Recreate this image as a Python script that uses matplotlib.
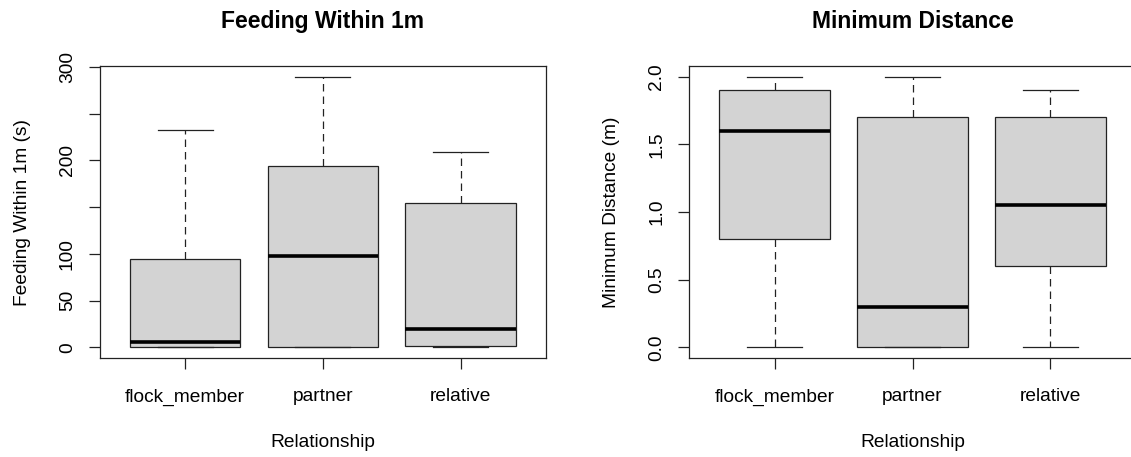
import matplotlib

matplotlib.use("Agg")
import matplotlib.pyplot as plt

plt.rcParams["font.family"] = ["Liberation Sans", "DejaVu Sans"]

# {{{ data

groups = ["flock_member", "partner", "relative"]

# five-number summaries: low whisker, q1, median, q3, high whisker
feeding_low = [0.0, 0.0, 0.0]
feeding_q1 = [0.0, 0.0, 1.8]
feeding_med = [5.4, 98.0, 19.3]
feeding_q3 = [94.9, 194.0, 154.0]
feeding_high = [232.7, 289.7, 209.4]

mindist_low = [0.0, 0.0, 0.0]
mindist_q1 = [0.8, 0.0, 0.6]
mindist_med = [1.6, 0.3, 1.05]
mindist_q3 = [1.9, 1.7, 1.7]
mindist_high = [2.0, 2.0, 1.9]

feeding_ticks = [0, 50, 100, 150, 200, 250, 300]
feeding_ticklabels = ["0", "50", "100", "", "200", "", "300"]
mindist_ticks = [0.0, 0.5, 1.0, 1.5, 2.0]
mindist_ticklabels = ["0.0", "0.5", "1.0", "1.5", "2.0"]

# }}}

LABEL_SIZE = 13.75
TITLE_SIZE = 16.5
EDGE = "#222222"


def make_stats(low, q1, med, q3, high):
    return [
        {"whislo": lo, "q1": a, "med": m, "q3": b, "whishi": hi, "fliers": []}
        for lo, a, m, b, hi in zip(low, q1, med, q3, high)
    ]


def r_boxplot(ax, stats, title, ylabel, ticks, ticklabels):
    ax.bxp(
        stats,
        positions=[1, 2, 3],
        widths=0.8,
        patch_artist=True,
        showfliers=False,
        boxprops={"facecolor": "#d3d3d3", "edgecolor": EDGE, "linewidth": 0.9},
        medianprops={"color": "black", "linewidth": 2.6, "solid_capstyle": "butt"},
        whiskerprops={"color": EDGE, "linewidth": 0.9, "linestyle": (0, (6, 4))},
        capprops={"color": EDGE, "linewidth": 0.9},
        capwidths=0.4,
    )

    lo = min(s["whislo"] for s in stats)
    hi = max(s["whishi"] for s in stats)
    pad = 0.04 * (hi - lo)
    ax.set_ylim(lo - pad, hi + pad)
    ax.set_xlim(0.5 - 0.12, 3.5 + 0.12)

    ax.set_xticks([1, 2, 3])
    ax.set_xticklabels(groups, fontsize=LABEL_SIZE)
    ax.set_yticks(ticks)
    ax.set_yticklabels(ticklabels, fontsize=LABEL_SIZE, rotation=90, va="center")

    ax.tick_params(axis="x", length=8.2, width=0.9, color=EDGE, pad=13.5)
    ax.tick_params(axis="y", length=8.2, width=0.9, color=EDGE, pad=9)
    for sp in ax.spines.values():
        sp.set_color(EDGE)
        sp.set_linewidth(0.9)

    ax.set_title(title, fontsize=TITLE_SIZE, fontweight="bold", pad=27)
    ax.set_xlabel("Relationship", fontsize=LABEL_SIZE, labelpad=20.5)
    ax.set_ylabel(ylabel, fontsize=LABEL_SIZE, labelpad=20)


fig = plt.figure(figsize=(11.31, 4.57), dpi=100)
W, H = 1131.0, 457.0
bottom = (H - 358.3) / H
height = (358.3 - 65.7) / H

ax1 = fig.add_axes([99.7 / W, bottom, 446.3 / W, height])
r_boxplot(
    ax1,
    make_stats(feeding_low, feeding_q1, feeding_med, feeding_q3, feeding_high),
    "Feeding Within 1m",
    "Feeding Within 1m (s)",
    feeding_ticks,
    feeding_ticklabels,
)

# the right panel runs a little past the figure edge, as in the reference
ax2 = fig.add_axes([689.0 / W, bottom, 447.0 / W, height])
r_boxplot(
    ax2,
    make_stats(mindist_low, mindist_q1, mindist_med, mindist_q3, mindist_high),
    "Minimum Distance",
    "Minimum Distance (m)",
    mindist_ticks,
    mindist_ticklabels,
)

fig.savefig("out.png", dpi=100)
